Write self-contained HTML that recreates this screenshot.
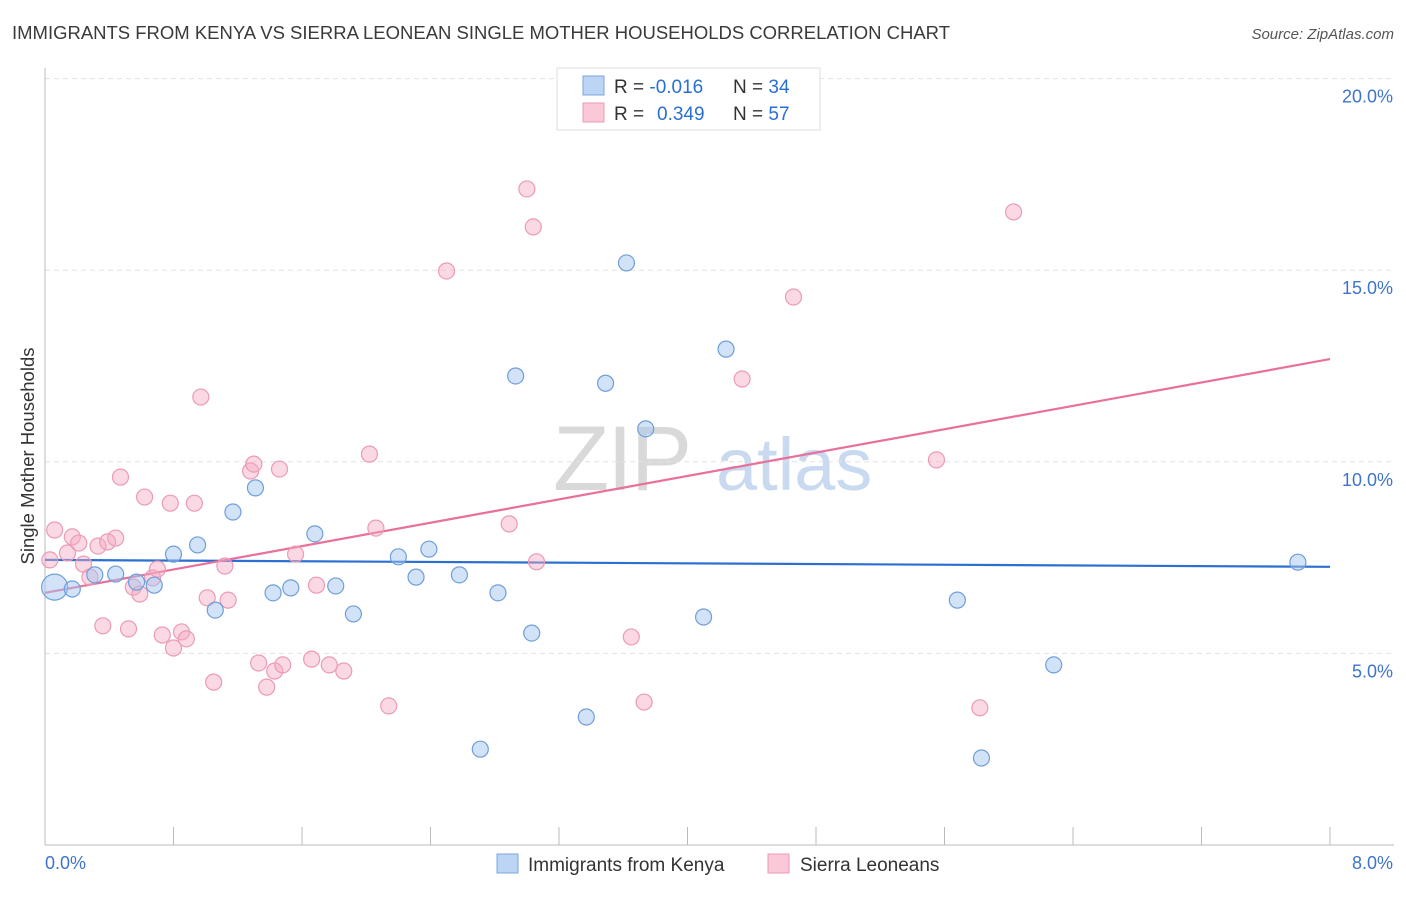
<!DOCTYPE html>
<html><head><meta charset="utf-8"><style>
body{margin:0;background:#fff;font-family:"Liberation Sans",sans-serif;}
svg text{font-family:"Liberation Sans",sans-serif;}
</style></head><body>
<svg id="chart" width="1406" height="892" xmlns="http://www.w3.org/2000/svg">
<text x="12" y="39" font-size="18" fill="#3a3a3a" textLength="938" lengthAdjust="spacingAndGlyphs">IMMIGRANTS FROM KENYA VS SIERRA LEONEAN SINGLE MOTHER HOUSEHOLDS CORRELATION CHART</text>
<text x="1394" y="39" font-size="15" fill="#555" text-anchor="end" font-style="italic">Source: ZipAtlas.com</text>
<g>
<text x="553" y="490" font-size="92" fill="#d9d9d9" font-family="Liberation Serif" letter-spacing="-2">ZIP</text>
<text x="716" y="490" font-size="74" fill="#c9daf0">atlas</text>
</g>
<g id="grid"></g>
<g id="axes"></g>
<g id="lines"></g>
<g id="points"></g>
<text transform="translate(34,456) rotate(-90)" font-size="18.5" fill="#333" text-anchor="middle">Single Mother Households</text>
<g>
<rect x="557" y="68" width="263" height="62" fill="#fff" stroke="#ddd"/>
<rect x="583" y="76" width="21" height="19" fill="#bcd5f5" stroke="#7aa6dc"/>
<rect x="583" y="103" width="21" height="19" fill="#fbc8d8" stroke="#eb9ab5"/>
<text x="614" y="93" font-size="19" fill="#333">R = <tspan fill="#2a6fd1">-0.016</tspan><tspan x="733">N = </tspan><tspan fill="#2a6fd1">34</tspan></text>
<text x="614" y="120" font-size="19" fill="#333">R = <tspan x="657" fill="#2a6fd1">0.349</tspan><tspan x="733">N = </tspan><tspan fill="#2a6fd1">57</tspan></text>
</g>
<g>
<rect x="497" y="854" width="21" height="19" fill="#bcd5f5" stroke="#7aa6dc"/>
<text x="528" y="871" font-size="19" fill="#333">Immigrants from Kenya</text>
<rect x="768" y="854" width="21" height="19" fill="#fbc8d8" stroke="#eb9ab5"/>
<text x="800" y="871" font-size="19" fill="#333">Sierra Leoneans</text>
</g>
</svg>
<script>
const xTicks=[0,0.8,1.6,2.4,3.2,4,4.8,5.6,6.4,7.2,8];
const yTicks=[5,10,15,20];
const yTickLabels=["5.0%","10.0%","15.0%","20.0%"];
const xEndLabels=["0.0%","8.0%"];
const kenyaX=[0.06,0.17,0.31,0.44,0.57,0.68,0.80,0.95,1.06,1.17,1.31,1.42,1.53,1.68,1.81,1.92,2.20,2.31,2.39,2.58,2.71,2.82,2.93,3.03,3.37,3.49,3.62,3.74,4.10,4.24,5.68,5.83,6.28,7.80];
const kenyaY=[6.73,6.68,7.05,7.07,6.86,6.78,7.59,7.83,6.13,8.69,9.32,6.58,6.71,8.12,6.76,6.03,7.52,6.99,7.72,7.05,2.50,6.58,12.24,5.53,3.34,12.05,15.19,10.86,5.95,12.94,6.39,2.27,4.70,7.38];
const sierraX=[0.03,0.06,0.14,0.17,0.21,0.24,0.28,0.33,0.36,0.39,0.44,0.47,0.52,0.55,0.59,0.62,0.67,0.70,0.73,0.78,0.80,0.85,0.88,0.93,0.97,1.01,1.05,1.12,1.14,1.28,1.30,1.33,1.38,1.43,1.46,1.48,1.56,1.66,1.69,1.77,1.86,2.02,2.06,2.14,2.50,2.89,3.00,3.04,3.06,3.65,3.73,4.34,4.66,5.55,5.82,6.03];
const sierraY=[7.44,8.22,7.62,8.04,7.88,7.33,6.99,7.80,5.72,7.91,8.01,9.60,5.64,6.73,6.55,9.08,6.97,7.20,5.48,8.92,5.14,5.56,5.38,8.92,11.69,6.45,4.25,7.28,6.39,9.76,9.94,4.75,4.12,4.54,9.81,4.70,7.59,4.85,6.78,4.70,4.54,10.20,8.27,3.63,14.98,8.38,17.12,16.13,7.39,5.43,3.73,12.16,14.30,10.05,3.58,16.52];
const kenyaTrend=[7.44,7.26];
const sierraTrend=[6.58,12.68];
const NS="http://www.w3.org/2000/svg";
const X=v=>45+v/8*1285, Y=v=>845-v*38.32;
function mk(tag,attrs,parent){const e=document.createElementNS(NS,tag);for(const k in attrs)e.setAttribute(k,attrs[k]);parent.appendChild(e);return e;}
const grid=document.getElementById('grid'),axes=document.getElementById('axes'),lines=document.getElementById('lines'),pts=document.getElementById('points');
yTicks.forEach((t,i)=>{
 const l=mk('line',{x1:45,x2:1394,y1:Y(t),y2:Y(t),stroke:'#e2e2e2','stroke-dasharray':'5,4'},grid);
 
 
 const tx=mk('text',{x:1393,y:Y(t)+24,'font-size':18,fill:'#3f74c9','text-anchor':'end'},axes);
 tx.textContent=yTickLabels[i];
 
 
});
const ya=mk('line',{x1:45,x2:45,y1:68,y2:845,stroke:'#bbb'},axes);


const xa=mk('line',{x1:45,x2:1394,y1:845,y2:845,stroke:'#bbb'},axes);


xTicks.forEach(t=>{
 const l=mk('line',{x1:X(t),x2:X(t),y1:827,y2:845,stroke:'#bbb'},axes);
 
 
});
const x0=mk('text',{x:45,y:869,'font-size':18,fill:'#3f74c9'},axes);x0.textContent=xEndLabels[0];


const x1=mk('text',{x:1393,y:869,'font-size':18,fill:'#3f74c9','text-anchor':'end'},axes);x1.textContent=xEndLabels[1];


sierraX.forEach((v,i)=>{
 const c=mk('circle',{cx:X(v),cy:Y(sierraY[i]),r:8,fill:'rgba(245,170,195,0.45)',stroke:'#ec9ab6','stroke-width':1.2},pts);
 
 
});
kenyaX.forEach((v,i)=>{
 const c=mk('circle',{cx:X(v),cy:Y(kenyaY[i]),r:i===0?13:8,fill:'rgba(165,198,240,0.5)',stroke:'#6f9fd8','stroke-width':1.2},pts);
 
 
});
const lk=mk('line',{x1:X(0),x2:X(8),y1:Y(kenyaTrend[0]),y2:Y(kenyaTrend[1]),stroke:'#2a6fd1','stroke-width':2.2},lines);


const ls=mk('line',{x1:X(0),x2:X(8),y1:Y(sierraTrend[0]),y2:Y(sierraTrend[1]),stroke:'#e8709a','stroke-width':2.2},lines);


</script>
</body></html>
